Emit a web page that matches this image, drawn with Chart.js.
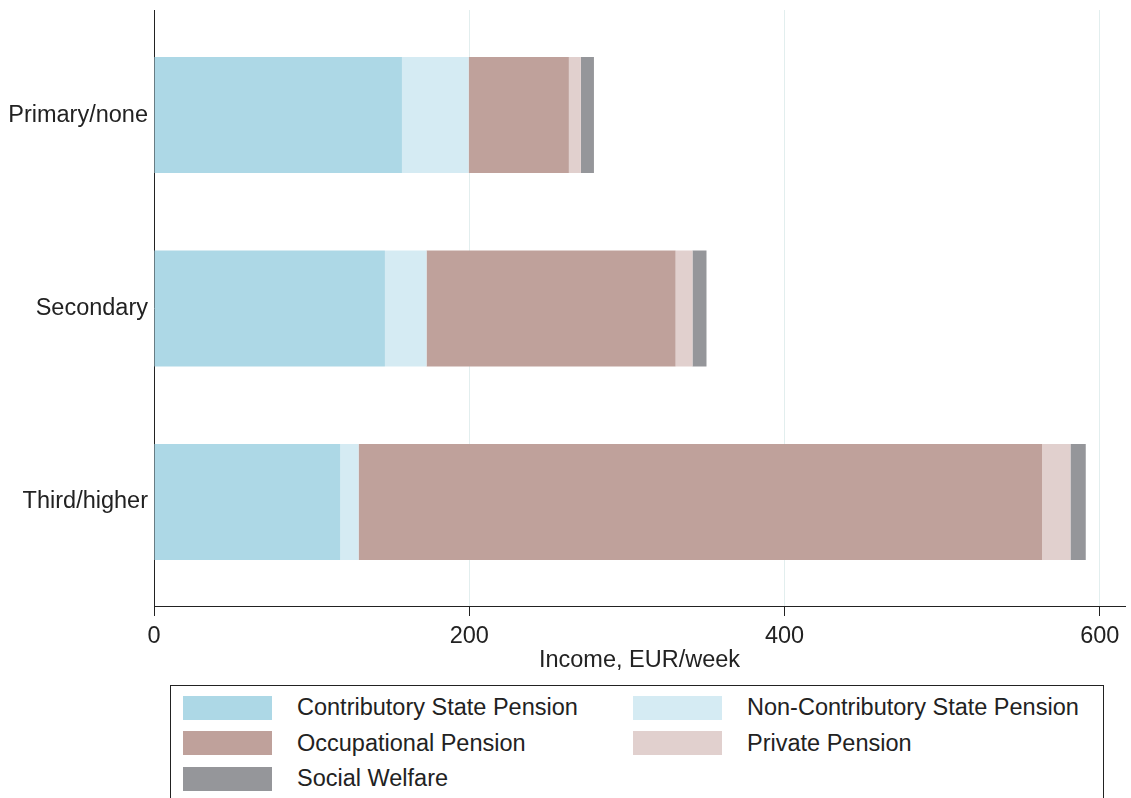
<!DOCTYPE html>
<html>
<head>
<meta charset="utf-8">
<script src="https://cdn.jsdelivr.net/npm/chart.js@4/dist/chart.umd.min.js"></script>
<style>
  html, body { margin: 0; padding: 0; background: #fff; overflow: hidden; }
  body { width: 1131px; height: 798px; position: relative; font-family: "Liberation Sans", Arial, sans-serif; }
  #wrap { position: absolute; left: 0; top: 0; width: 1131px; height: 682px; }
  #legend {
    position: absolute; left: 170px; top: 685px; width: 934px; height: 130px;
    border: 1px solid #222; box-sizing: border-box;
    display: grid; grid-template-columns: 450px 450px; grid-auto-rows: 35.5px;
    padding: 4px 0 0 12px;
  }
  .item { display: flex; align-items: center; color: #222; font-size: 23.5px; }
  .swatch { width: 89px; height: 24px; margin-right: 25px; flex: none; }
</style>
</head>
<body>
<div id="wrap"><canvas id="chart"></canvas></div>
<div id="legend"></div>
<script>
const categories = ["Primary/none", "Secondary", "Third/higher"];
const contributory = [157.3, 146.5, 118.2];
const nonContributory = [42.3, 26.4, 11.6];
const occupational = [63.6, 158.0, 433.6];
const privatePension = [7.6, 10.7, 18.0];
const socialWelfare = [8.3, 8.9, 9.7];
const xTicks = [0, 200, 400, 600];

const series = [
  { label: "Contributory State Pension", values: contributory, color: "rgb(173,216,230)" },
  { label: "Non-Contributory State Pension", values: nonContributory, color: "rgb(213,235,243)" },
  { label: "Occupational Pension", values: occupational, color: "rgb(191,161,155)" },
  { label: "Private Pension", values: privatePension, color: "rgb(225,208,206)" },
  { label: "Social Welfare", values: socialWelfare, color: "rgb(149,150,154)" },
];

const font = { family: "'Liberation Sans', Arial, sans-serif", size: 23.5 };

const chart = new Chart(document.getElementById("chart"), {
  type: "bar",
  data: {
    datasets: series.map((s) => ({
      label: s.label,
      data: s.values.map((v, i) => ({ x: v, y: i })),
      backgroundColor: s.color,
      borderWidth: 0,
      barPercentage: 0.6,
      categoryPercentage: 1,
    })),
  },
  options: {
    indexAxis: "y",
    responsive: true,
    maintainAspectRatio: false,
    animation: false,
    layout: { padding: { top: 10, right: 6, left: 0, bottom: 0 } },
    plugins: { legend: { display: false }, tooltip: { enabled: false } },
    scales: {
      x: {
        type: "linear",
        stacked: true,
        min: 0,
        max: 616,
        afterBuildTicks: (scale) => { scale.ticks = xTicks.map((v) => ({ value: v })); },
        afterFit: (scale) => { scale.height = 76; },
        grid: { color: "#e2eeee", lineWidth: 1, tickColor: "#222", tickLength: 10 },
        border: { display: true, color: "#222", width: 1 },
        ticks: { font, color: "#222", padding: 6, maxRotation: 0 },
        title: { display: true, text: "Income, EUR/week", font, color: "#222", padding: { top: 0, bottom: 7 } },
      },
      y: {
        type: "linear",
        stacked: true,
        reverse: true,
        offset: false,
        bounds: "data",
        min: -0.543,
        max: 2.538,
        afterBuildTicks: (scale) => { scale.ticks = categories.map((c, i) => ({ value: i })); },
        afterFit: (scale) => {
          scale.width = 154;
          scale.paddingTop = 0;
          scale.paddingBottom = 0;
        },
        grid: { display: false, drawTicks: false },
        border: { display: true, color: "#222", width: 1 },
        ticks: {
          font, color: "#222", padding: 6,
          callback: (v) => categories[v] ?? "",
        },
      },
    },
  },
});

const legend = document.getElementById("legend");
chart.data.datasets.forEach((ds) => {
  const item = document.createElement("div");
  item.className = "item";
  const sw = document.createElement("span");
  sw.className = "swatch";
  sw.style.background = ds.backgroundColor;
  const txt = document.createElement("span");
  txt.textContent = ds.label;
  item.appendChild(sw);
  item.appendChild(txt);
  legend.appendChild(item);
});
</script>
</body>
</html>
